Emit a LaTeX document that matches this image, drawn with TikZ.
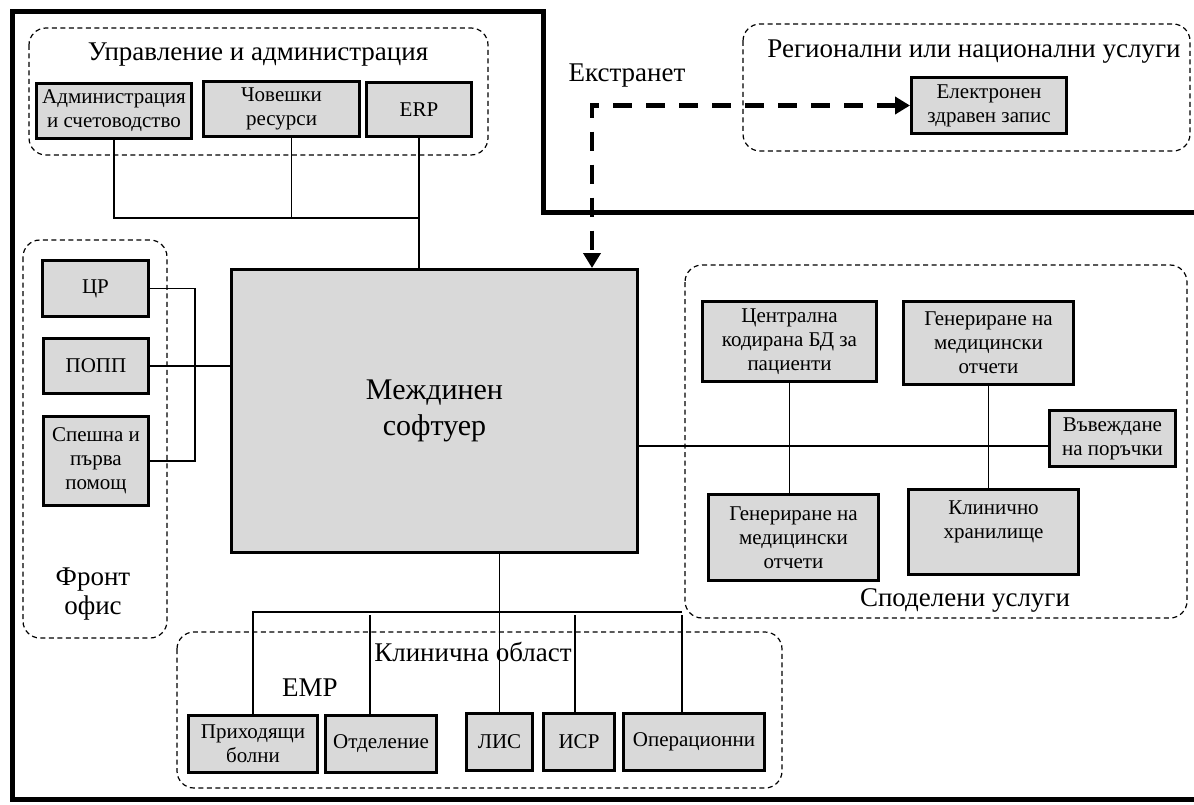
\documentclass[tikz,border=0pt]{standalone}
\usepackage{fontspec}
\setmainfont{Liberation Serif}
\usetikzlibrary{arrows.meta,calc}
\definecolor{blkgray}{HTML}{D9D9D9}

\begin{document}
\begin{tikzpicture}[x=1pt, y=-1pt,
    blk/.style={draw, line width=3pt, fill=blkgray, align=center, inner sep=0pt,
                font=\fontsize{21}{24}\selectfont},
    grp/.style={draw, line width=1.2pt, dash pattern=on 5pt off 3.5pt, rounded corners=17pt},
    grplabel/.style={font=\fontsize{27}{29}\selectfont, align=center, inner sep=0pt},
    link/.style={line width=1.6pt},
    frame/.style={line width=5pt},
    extnet/.style={line width=4.5pt, dash pattern=on 19pt off 14pt,
                   {Triangle[length=15pt,width=17pt]}-{Triangle[length=15pt,width=17pt]}}]
    \useasboundingbox (0,0) rectangle (1194,805);

    \draw[frame] (1194,213) -- (543,213) -- (543,12) -- (12.5,12) -- (12.5,799.5) -- (1194,799.5);

    \draw[grp] (29,28) rectangle (488,155);
    \node[grplabel] (mgmtlbl) at (258,55) {Управление и администрация};
    \node[blk, minimum width=155pt, minimum height=55pt] (adm) at (114,111) {Администрация\\и счетоводство};
    \node[blk, minimum width=156pt, minimum height=55pt] (hr) at (281.5,109) {Човешки\\ресурси};
    \node[blk, minimum width=105pt, minimum height=54pt] (erp) at (419,109.5) {ERP};

    \node[blk, minimum width=406pt, minimum height=283pt, font=\fontsize{30}{36}\selectfont] (mw) at (434.5,411) {Междинен\\софтуер};

    \draw[grp] (23,240) rectangle (167,638);
    \node[grplabel] (frontlbl) at (93,594) {Фронт\\офис};
    \node[blk, minimum width=106pt, minimum height=56pt] (cr) at (95.5,288.5) {ЦР};
    \node[blk, minimum width=105pt, minimum height=55pt] (popp) at (96,366) {ПОПП};
    \node[blk, minimum width=105pt, minimum height=89pt] (er) at (96,461) {Спешна и\\първа\\помощ};

    \node[grplabel] (xnetlbl) at (627,76) {Екстранет};
    \draw[grp] (743,24) rectangle (1190,151);
    \node[grplabel] (reglbl) at (974,52) {Регионални или национални услуги};
    \node[blk, minimum width=155pt, minimum height=56pt] (ehr) at (989,105.5) {Електронен\\здравен запис};

    \draw[grp] (685,265) rectangle (1187,618);
    \node[grplabel] (sharedlbl) at (965,600) {Споделени услуги};
    \node[blk, minimum width=174pt, minimum height=80pt] (cdb) at (789.5,341.5) {Централна\\кодирана БД за\\пациенти};
    \node[blk, minimum width=170pt, minimum height=83pt] (rep1) at (988.5,343) {Генериране на\\медицински\\отчети};
    \node[blk, minimum width=126pt, minimum height=56pt] (ord) at (1112.5,438.5) {Въвеждане\\на поръчки};
    \node[blk, minimum width=170pt, minimum height=86pt] (rep2) at (793.5,537.5) {Генериране на\\медицински\\отчети};
    \node[blk, minimum width=170pt, minimum height=85pt] (repo) at (993.5,532) {Клинично\\хранилище\\\mbox{}};

    \draw[grp] (177,632) rectangle (782,788);
    \node[grplabel] (cliniclbl) at (473,652) {Клинична област};
    \node[grplabel] (emrlbl) at (310,688) {ЕМР};
    \node[blk, minimum width=129pt, minimum height=57pt] (inb) at (253,744) {Приходящи\\болни};
    \node[blk, minimum width=111pt, minimum height=57pt] (ward) at (381,744) {Отделение};
    \node[blk, minimum width=66pt, minimum height=57pt] (lis) at (499.5,742) {ЛИС};
    \node[blk, minimum width=71pt, minimum height=57pt] (isr) at (579,742) {ИСР};
    \node[blk, minimum width=141pt, minimum height=57pt] (ops) at (694,742) {Операционни};

    \coordinate (mbus) at (0,218);
    \coordinate (fbus) at (195,0);
    \coordinate (cbus) at (0,612);
    \coordinate (xdrop) at (592,0);

    \draw[link] (adm.south) |- (erp.south |- mbus);
    \draw[link] ([xshift=10pt]hr.south) -- ($(hr.south |- mbus)+(10,0)$);
    \draw[link] (erp.south) -- (erp.south |- mw.north);

    \draw[link] (cr.east) -| (fbus |- er.east) -- (er.east);
    \draw[link] (popp.east) -- (popp.east -| mw.west);

    \draw[extnet] (ehr.west) -| (xdrop |- mw.north);

    \draw[link] (cdb.south) -- (cdb.south |- rep2.north);
    \draw[link] (rep1.south) -- (rep1.south |- repo.north);
    \draw[link] ([yshift=-7.5pt]ord.west) -- ($(ord.west -| mw.east)+(0,7.5)$);

    \draw[link] (lis.north) -- (lis.north |- mw.south);
    \draw[link] (inb.north) |- ($(ops.north |- cbus)+(-12,0)$);
    \foreach \n/\s in {ward/-11,isr/-4,ops/-12}
        \draw[link] ([xshift=\s pt]\n.north) -- ($(\n.north |- cbus)+(\s,3)$);
\end{tikzpicture}
\end{document}
